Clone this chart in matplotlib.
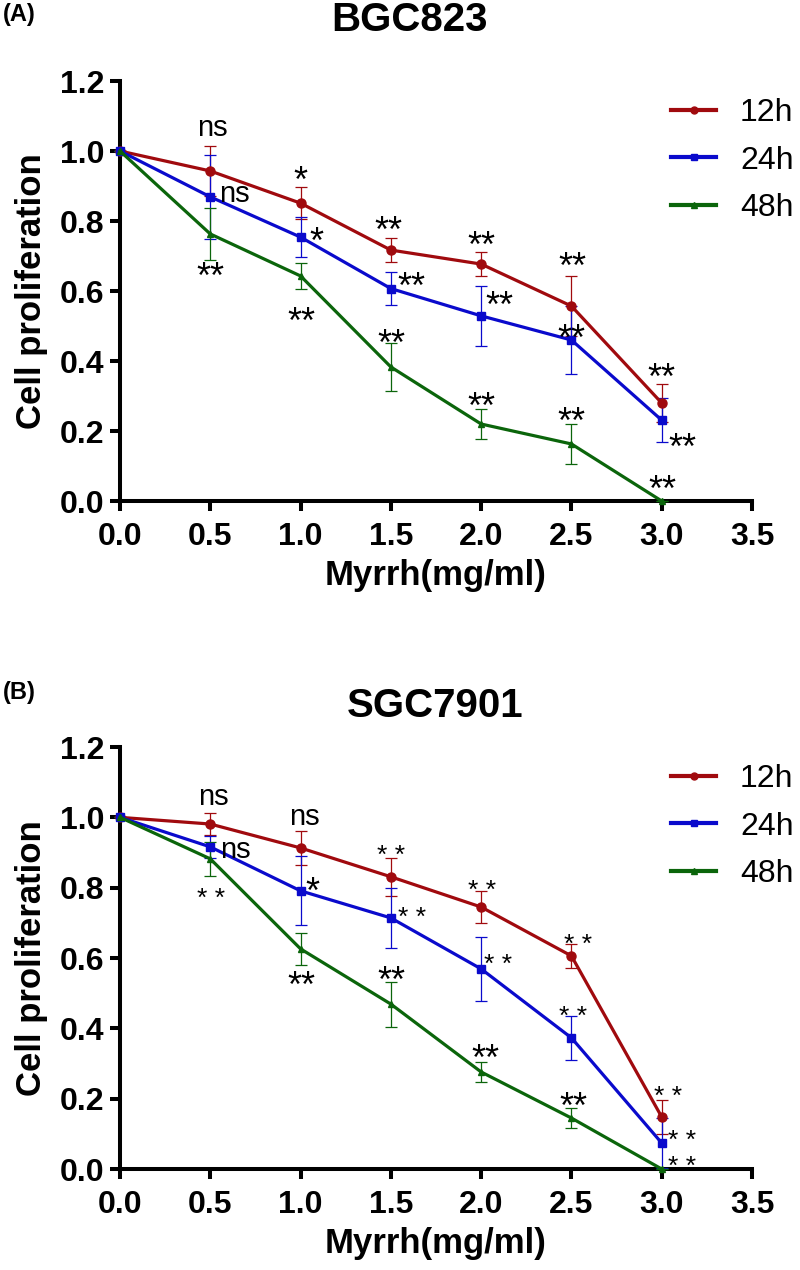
import numpy as np
import matplotlib
matplotlib.use('Agg')
from matplotlib import pyplot as plt
from matplotlib.lines import Line2D

plt.rcParams['font.family'] = ['Liberation Sans', 'DejaVu Sans']

# doses (mg/ml)
doses = [0.0, 0.5, 1.0, 1.5, 2.0, 2.5, 3.0]
series_names = ['12h', '24h', '48h']

# (A) BGC823
bgc_12h = [1.0, 0.943, 0.851, 0.717, 0.677, 0.557, 0.280]
bgc_12h_err = [0.0, 0.071, 0.046, 0.034, 0.034, 0.086, 0.054]
bgc_24h = [1.0, 0.869, 0.754, 0.607, 0.529, 0.460, 0.231]
bgc_24h_err = [0.0, 0.120, 0.057, 0.046, 0.085, 0.097, 0.062]
bgc_48h = [1.0, 0.763, 0.643, 0.383, 0.220, 0.163, 0.0]
bgc_48h_err = [0.0, 0.073, 0.038, 0.069, 0.043, 0.058, 0.0]

# (B) SGC7901
sgc_12h = [1.0, 0.981, 0.913, 0.831, 0.745, 0.606, 0.148]
sgc_12h_err = [0.0, 0.031, 0.048, 0.054, 0.045, 0.034, 0.048]
sgc_24h = [1.0, 0.916, 0.791, 0.714, 0.569, 0.373, 0.074]
sgc_24h_err = [0.0, 0.031, 0.098, 0.085, 0.090, 0.063, 0.070]
sgc_48h = [1.0, 0.882, 0.626, 0.469, 0.276, 0.145, 0.0]
sgc_48h_err = [0.0, 0.048, 0.045, 0.064, 0.028, 0.028, 0.0]

# significance marks per point
bgc_marks = {
    '12h': ['', 'ns', '*', '**', '**', '**', '**'],
    '24h': ['', 'ns', '*', '**', '**', '**', '**'],
    '48h': ['', '**', '**', '**', '**', '**', '**'],
}
sgc_marks = {
    '12h': ['', 'ns', 'ns', '* *', '* *', '* *', '* *'],
    '24h': ['', 'ns', '*', '* *', '* *', '* *', '* *'],
    '48h': ['', '* *', '**', '**', '**', '**', '* *'],
}

# offsets of the marks from their point, in pixels (right, up)
bgc_offsets = {
    '12h': [None, (2, 43), (0, 31), (-2, 28), (0, 27), (1, 48), (0, 34)],
    '24h': [None, (24, 2), (16, 4), (21, 11), (18, 19), (0, 10), (21, -19)],
    '48h': [None, (0, -34), (1, -37), (1, 32), (0, 26), (0, 31), (1, 20)],
}
sgc_offsets = {
    '12h': [None, (3, 27), (4, 31), (0, 29), (1, 24), (7, 19), (6, 28)],
    '24h': [None, (25, -4), (12, 8), (21, 8), (17, 12), (2, 29), (20, 10)],
    '48h': [None, (1, -32), (1, -28), (1, 32), (4, 22), (2, 20), (20, 10)],
}

colors = {'12h': '#a00a0e', '24h': '#0a0acc', '48h': '#0b650b'}
markers = {'12h': 'o', '24h': 's', '48h': '^'}
msizes = {'12h': 6.5, '24h': 6, '48h': 5}

PX = 72 / 100  # pixels -> points


def draw_panel(ax, data, errs, marks, offsets, big_star, small_star):
    for name in series_names:
        ax.errorbar(doses, data[name], yerr=errs[name], color=colors[name],
                    lw=2.3, marker=markers[name], ms=msizes[name],
                    elinewidth=0.9, capsize=4, capthick=0.9,
                    clip_on=False, zorder=3)
        for i, txt in enumerate(marks[name]):
            if not txt:
                continue
            dx, dy = offsets[name][i]
            if txt == 'ns':
                fs, k = 21, 0.26
            elif txt == '* *':
                fs, k = small_star, 0.56
            else:
                fs, k = big_star, 0.56
            ax.annotate(txt, (doses[i], data[name][i]),
                        xytext=(dx * PX, dy * PX - k * fs),
                        textcoords='offset points', ha='center', va='baseline',
                        fontsize=fs, zorder=4, annotation_clip=False)

    ax.set_xlim(0, 3.5)
    ax.set_ylim(0, 1.2)
    ax.set_xticks(np.arange(0, 3.51, 0.5))
    ax.set_yticks(np.arange(0, 1.21, 0.2))
    ax.set_xticklabels(['%.1f' % v for v in np.arange(0, 3.51, 0.5)])
    ax.set_yticklabels(['%.1f' % v for v in np.arange(0, 1.21, 0.2)])
    for s in ['top', 'right']:
        ax.spines[s].set_visible(False)
    for s in ['left', 'bottom']:
        ax.spines[s].set_linewidth(2.9)
    ax.tick_params(axis='both', length=7, width=2.9, labelsize=23)
    ax.tick_params(axis='x', pad=8)
    ax.tick_params(axis='y', pad=4)
    for lab in ax.get_xticklabels() + ax.get_yticklabels():
        lab.set_fontweight('bold')
    ax.set_xlabel('Myrrh(mg/ml)', fontsize=25, fontweight='bold', labelpad=5)
    ax.set_ylabel('Cell proliferation', fontsize=25, fontweight='bold', labelpad=9)

    handles = [Line2D([], [], color=colors[n], lw=3, marker=markers[n], ms=5)
               for n in series_names]
    ax.legend(handles, series_names, loc='upper left', bbox_to_anchor=(0.852, 0.99),
              frameon=False, fontsize=23, handlelength=1.4, handletextpad=0.75,
              labelspacing=0.55, borderaxespad=0)


fig = plt.figure(figsize=(8, 12.7), dpi=100)
ax1 = fig.add_axes([0.15, 0.6055, 0.79, 0.3307])
ax2 = fig.add_axes([0.15, 0.0795, 0.79, 0.3323])

draw_panel(ax1,
           {'12h': bgc_12h, '24h': bgc_24h, '48h': bgc_48h},
           {'12h': bgc_12h_err, '24h': bgc_24h_err, '48h': bgc_48h_err},
           bgc_marks, bgc_offsets, 26, 19)
draw_panel(ax2,
           {'12h': sgc_12h, '24h': sgc_24h, '48h': sgc_48h},
           {'12h': sgc_12h_err, '24h': sgc_24h_err, '48h': sgc_48h_err},
           sgc_marks, sgc_offsets, 26, 19)

fig.text(410 / 800, 1 - 20 / 1270, 'BGC823', ha='center', va='center',
         fontsize=29, fontweight='bold')
fig.text(435 / 800, 1 - 706 / 1270, 'SGC7901', ha='center', va='center',
         fontsize=29, fontweight='bold')
fig.text(3 / 800, 1 - 15 / 1270, '(A)', ha='left', va='center',
         fontsize=17, fontweight='bold')
fig.text(3 / 800, 1 - 693 / 1270, '(B)', ha='left', va='center',
         fontsize=17, fontweight='bold')

fig.savefig('out.png', dpi=100)
